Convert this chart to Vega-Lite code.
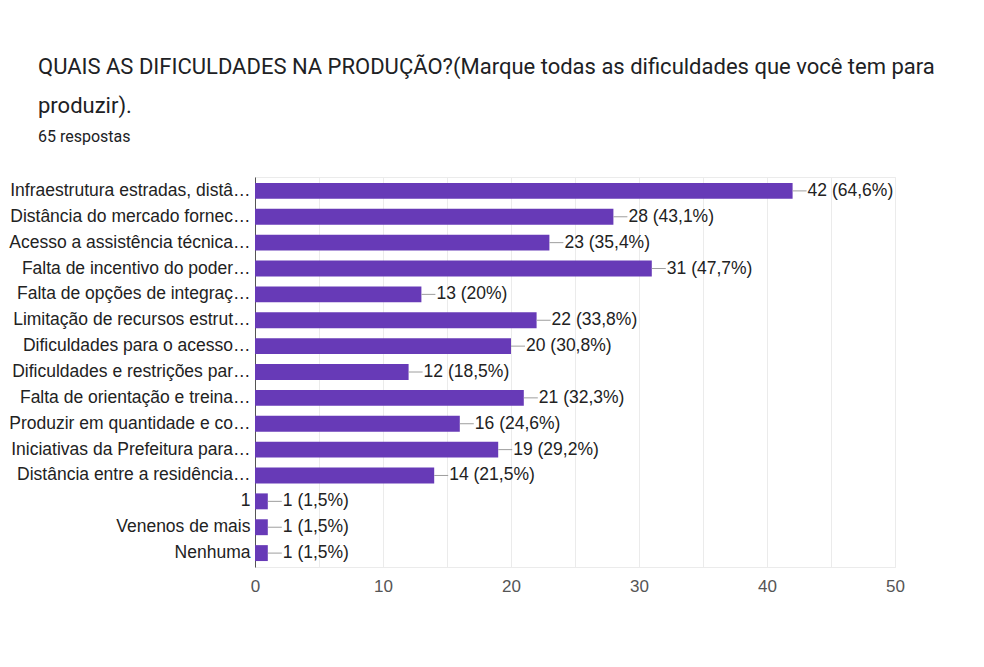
{
  "$schema": "https://vega.github.io/schema/vega-lite/v6.json",
  "autosize": {"type": "none"},
  "width": 640,
  "height": 390,
  "padding": {"left": 255, "top": 177, "right": 89, "bottom": 100},
  "background": "white",
  "title": {
    "text": ["QUAIS AS DIFICULDADES NA PRODUÇÃO?(Marque todas as dificuldades que você tem para", "produzir)."],
    "subtitle": "65 respostas",
    "anchor": "start",
    "frame": "group",
    "dx": -217,
    "font": "Roboto",
    "fontSize": 22,
    "fontWeight": "normal",
    "color": "#202124",
    "lineHeight": 39,
    "subtitleFont": "Roboto",
    "subtitleFontSize": 16,
    "subtitleColor": "#202124",
    "subtitlePadding": 11,
    "offset": 31
  },
  "data": {
    "values": [
      {"item": "Infraestrutura estradas, distâ…", "count": 42, "label": "42 (64,6%)"},
      {"item": "Distância do mercado fornec…", "count": 28, "label": "28 (43,1%)"},
      {"item": "Acesso a assistência técnica…", "count": 23, "label": "23 (35,4%)"},
      {"item": "Falta de incentivo do poder…", "count": 31, "label": "31 (47,7%)"},
      {"item": "Falta de opções de integraç…", "count": 13, "label": "13 (20%)"},
      {"item": "Limitação de recursos estrut…", "count": 22, "label": "22 (33,8%)"},
      {"item": "Dificuldades para o acesso…", "count": 20, "label": "20 (30,8%)"},
      {"item": "Dificuldades e restrições par…", "count": 12, "label": "12 (18,5%)"},
      {"item": "Falta de orientação e treina…", "count": 21, "label": "21 (32,3%)"},
      {"item": "Produzir em quantidade e co…", "count": 16, "label": "16 (24,6%)"},
      {"item": "Iniciativas da Prefeitura para…", "count": 19, "label": "19 (29,2%)"},
      {"item": "Distância entre a residência…", "count": 14, "label": "14 (21,5%)"},
      {"item": "1", "count": 1, "label": "1 (1,5%)"},
      {"item": "Venenos de mais", "count": 1, "label": "1 (1,5%)"},
      {"item": "Nenhuma", "count": 1, "label": "1 (1,5%)"}
    ]
  },
  "encoding": {
    "y": {
      "field": "item",
      "type": "nominal",
      "sort": null,
      "scale": {"paddingInner": 0.385, "paddingOuter": 0.23},
      "axis": {
        "title": null,
        "ticks": false,
        "domain": true,
        "domainColor": "#555555",
        "labelFont": "Liberation Sans",
        "labelFontSize": 17.5,
        "labelColor": "#222222",
        "labelPadding": 5,
        "labelLimit": 400
      }
    },
    "x": {
      "field": "count",
      "type": "quantitative",
      "scale": {"domain": [0, 50], "nice": false},
      "axis": {
        "title": null,
        "values": [0, 5, 10, 15, 20, 25, 30, 35, 40, 45, 50],
        "labelExpr": "datum.value % 10 === 0 ? datum.label : ''",
        "labelFlush": false,
        "ticks": false,
        "domain": false,
        "grid": true,
        "gridColor": "#ebebeb",
        "labelFont": "Liberation Sans",
        "labelFontSize": 17,
        "labelColor": "#555555",
        "labelPadding": 11
      }
    }
  },
  "layer": [
    {"mark": {"type": "bar", "color": "#673ab7"}},
    {
      "mark": {"type": "point", "shape": "M0,0L2,0", "size": 196, "filled": false, "stroke": "#9e9e9e", "strokeWidth": 1, "opacity": 1}
    },
    {
      "mark": {"type": "text", "align": "left", "baseline": "middle", "dx": 15, "font": "Liberation Sans", "fontSize": 17.5, "color": "#222222"},
      "encoding": {"text": {"field": "label"}}
    }
  ],
  "config": {
    "view": {"stroke": "#ebebeb"}
  }
}
